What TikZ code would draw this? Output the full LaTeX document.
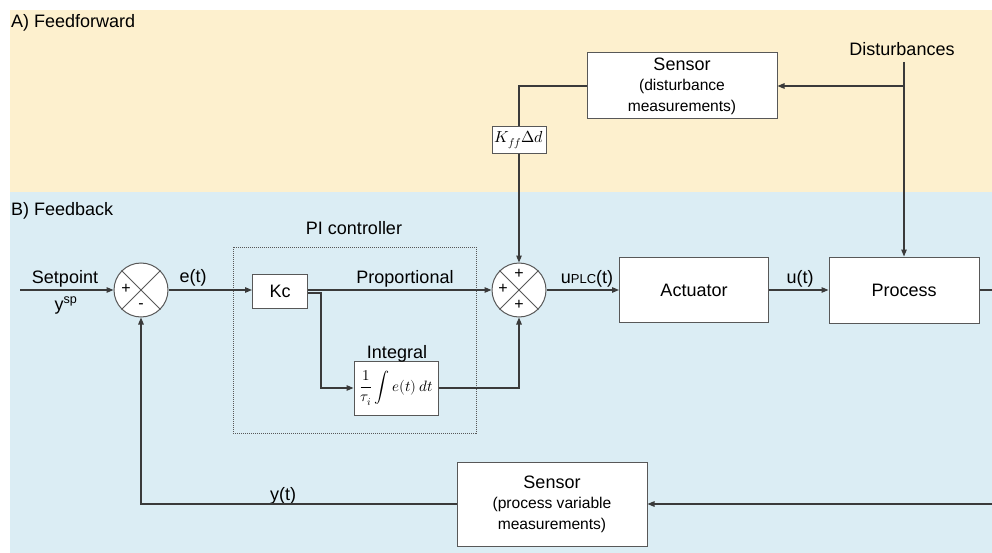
\documentclass[tikz,border=0pt]{standalone}
\usepackage{fontspec}
\usepackage{unicode-math}
\setmainfont{Liberation Sans}
\setmathfont{Latin Modern Math}
\usetikzlibrary{arrows.meta,calc}

\definecolor{ffbg}{RGB}{253,240,206}
\definecolor{fbbg}{RGB}{219,237,244}
\definecolor{wirecol}{RGB}{58,58,58}
\definecolor{edgecol}{RGB}{88,88,88}

\newcommand\bigsz{\fontsize{18}{20}\selectfont}
\newcommand\subsz{\fontsize{15.6}{20.5}\selectfont}
\newcommand\signsz{\fontsize{16}{16}\selectfont}

\begin{document}
\begin{tikzpicture}[x=1pt,y=-1pt,
  blk/.style={draw=edgecol, line width=1pt, fill=white, inner sep=0pt, font=\bigsz, align=center},
  sumnode/.style={circle, draw=edgecol, line width=1pt, fill=white, minimum size=54pt, inner sep=0pt},
  wire/.style={draw=wirecol, line width=1.2pt},
  arr/.style={wire, -{Triangle[length=7pt,width=5.5pt]}},
  lbl/.style={font=\bigsz, inner sep=0pt, anchor=base},
  sign/.style={font=\signsz, inner sep=0pt}]

\useasboundingbox (0,0) rectangle (992,553);
\clip (0,0) rectangle (992,553);
\fill[white] (0,0) rectangle (992,553);

% background bands
\fill[ffbg] (10,10) rectangle (992,192);
\fill[fbbg] (10,192) rectangle (992,553);
\node[lbl, anchor=base west] (titleA) at (11,28) {A) Feedforward};
\node[lbl, anchor=base west] (titleB) at (11,215) {B) Feedback};

% PI controller frame
\draw[edgecol, line width=0.9pt, dash pattern=on 1pt off 1pt] (233,247) rectangle (476,433);
\node[lbl] (pilbl) at (354,235) {PI controller};

% summing junctions
\node[sumnode] (s1) at (141,290) {};
\draw[edgecol, line width=1pt] (s1.45) -- (s1.225) (s1.135) -- (s1.315);
\node[sign] (s1p) at (126,289) {+};
\node[sign] (s1m) at (141,306) {-};

\node[sumnode] (s2) at (519,290) {};
\draw[edgecol, line width=1pt] (s2.45) -- (s2.225) (s2.135) -- (s2.315);
\node[sign] (s2t) at (519,274) {+};
\node[sign] (s2l) at (503,289) {+};
\node[sign] (s2b) at (519,305) {+};

% blocks
\node[blk, minimum width=55pt, minimum height=34pt] (kc) at (280,291) {Kc};
\node[blk, minimum width=84pt, minimum height=54pt, font=\fontsize{15}{17}\selectfont] (int) at (396,388)
  {$\displaystyle\frac{1}{\tau_i}\int e(t)\,dt$};
\node[lbl] (intlbl) at (397,358) {Integral};
\node[blk, minimum width=149pt, minimum height=65pt] (act) at (694,290) {Actuator};
\node[blk, minimum width=150pt, minimum height=66pt] (proc) at (904,290) {Process};
\node[blk, minimum width=190pt, minimum height=66pt, font=\subsz] (sd) at (682,86)
  {{\bigsz Sensor}\\(disturbance\\measurements)};
\node[blk, minimum width=54pt, minimum height=27pt, font=\fontsize{16}{18}\selectfont] (kff) at (519,140)
  {$K_{ff}\Delta d$};
\node[blk, minimum width=190pt, minimum height=84pt, font=\subsz] (sp) at (552,504)
  {{\bigsz Sensor}\\(process variable\\measurements)};

% free ends
\coordinate (spin) at (20,290);
\coordinate (dtop) at (904,62);
\coordinate (outR) at (998,290);
\coordinate (outRB) at (998,504);

% labels
\node[lbl] (splbl) at (65,283) {Setpoint};
\node[lbl] (yspl) at (66,310) {y\textsuperscript{sp}};
\node[lbl] (etl) at (193,282) {e(t)};
\node[lbl] (proplbl) at (405,283) {Proportional};
\node[lbl] (uplcl) at (587,283) {u{\fontsize{13}{14}\selectfont PLC}(t)};
\node[lbl] (utl) at (800,283) {u(t)};
\node[lbl] (ytl) at (283,500) {y(t)};
\node[lbl] (distl) at (902,56) {Disturbances};

% feedback path
\draw[arr] (spin) -- (s1.west);
\draw[arr] (s1.east) -- (s1.east -| kc.west);
\draw[arr] (kc.east |- s2.west) -- (s2.west);
\draw[arr] ($(kc.east)+(0,2)$) -- ++(13,0) |- (int.west);
\draw[arr] (int.east) -| (s2.south);
\draw[arr] (s2.east) -- (act.west);
\draw[arr] (act.east) -- (proc.west);
\draw[wire] (proc.east) -- (outR) -- (outRB);
\draw[arr] (outRB) -- (sp.east);
\draw[arr] (sp.west) -| (s1.south);

% feedforward path
\draw[arr] (dtop) -- (proc.north);
\draw[arr] (dtop |- sd.east) -- (sd.east);
\draw[wire] (sd.west) -| (kff.north);
\draw[arr] (kff.south) -- (s2.north);
\end{tikzpicture}
\end{document}
